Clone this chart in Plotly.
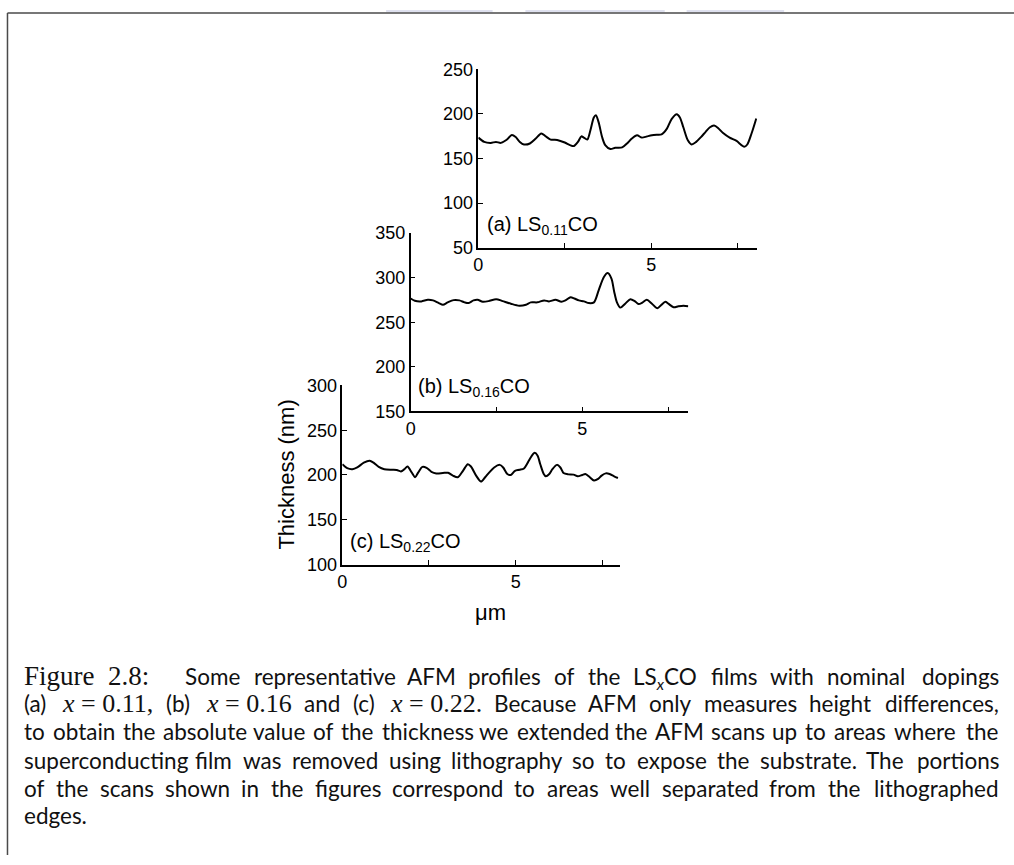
import plotly.graph_objects as go

W, H = 1014, 865

# ---- AFM height profiles (position in um, thickness in nm) ----
x_a = [0, 0.17, 0.36, 0.51, 0.65, 0.82, 0.97, 1.08, 1.2, 1.32, 1.49, 1.66, 1.82, 1.95,
       2.09, 2.28, 2.5, 2.65, 2.76, 2.88, 2.98, 3.05, 3.15, 3.24, 3.34, 3.4, 3.48, 3.58,
       3.67, 3.82, 3.96, 4.16, 4.3, 4.44, 4.59, 4.73, 4.88, 5.02, 5.16, 5.3, 5.45, 5.59,
       5.74, 5.83, 5.93, 6.06, 6.17, 6.3, 6.44, 6.57, 6.7, 6.82, 6.94, 7.08, 7.27, 7.47,
       7.61, 7.69, 7.78, 7.9, 8.04]
y_a = [173.4, 168.6, 167.5, 168.6, 167.5, 171, 176.3, 174, 168.6, 165.7, 166.8, 172.3,
       178.1, 174.8, 171.2, 170.8, 167.9, 165, 163.9, 168.6, 174.8, 173.4, 171.2, 181.4,
       196, 198.5, 190.5, 174, 165, 160.6, 162, 162.4, 166.8, 172.3, 176, 173.4, 174.8,
       176, 176.6, 177, 183.2, 194.2, 199.6, 196, 185, 170.4, 165.7, 168.6, 174, 179.6,
       185, 186.9, 184, 178.5, 173.4, 169.7, 165, 163.1, 165.7, 177.7, 194.9]

x_b = [0, 0.12, 0.31, 0.5, 0.65, 0.82, 0.94, 1.08, 1.25, 1.42, 1.57, 1.69, 1.83, 1.95,
       2.1, 2.27, 2.49, 2.68, 2.92, 3.16, 3.36, 3.5, 3.69, 3.89, 4.03, 4.22, 4.39, 4.51,
       4.66, 4.77, 4.9, 5.05, 5.19, 5.34, 5.48, 5.63, 5.74, 5.85, 5.93, 6.01, 6.11, 6.25,
       6.4, 6.53, 6.64, 6.76, 6.88, 7.03, 7.19, 7.3, 7.42, 7.51, 7.66, 7.8, 7.95, 8.09]
y_b = [276.6, 274.1, 273.4, 275.2, 274.5, 271.5, 269.7, 272.3, 274.8, 274.5, 272.3,
       271.5, 274.5, 275.2, 273, 273.7, 275.9, 273.7, 270.8, 268.6, 269.7, 272.3, 272.3,
       274.5, 273.4, 275.2, 273, 274.5, 278.1, 276.6, 274.5, 273.4, 271.5, 272.3, 286.1,
       300.7, 305.1, 298.9, 284.3, 272.3, 266.4, 270.8, 275.9, 273.7, 270.4, 272.3, 275.2,
       270.8, 265.7, 269.3, 273, 270.8, 266.8, 267.9, 268.6, 267.9]

x_c = [0, 0.14, 0.29, 0.43, 0.62, 0.79, 0.9, 1.05, 1.21, 1.43, 1.57, 1.69, 1.79, 1.88,
       2.0, 2.1, 2.19, 2.31, 2.43, 2.57, 2.71, 2.9, 3.05, 3.19, 3.33, 3.48, 3.62, 3.71,
       3.86, 4.0, 4.12, 4.24, 4.38, 4.54, 4.64, 4.76, 4.86, 4.98, 5.11, 5.24, 5.35, 5.46,
       5.55, 5.63, 5.71, 5.81, 5.87, 5.97, 6.06, 6.19, 6.29, 6.38, 6.52, 6.67, 6.79, 6.92,
       7.01, 7.14, 7.26, 7.38, 7.48, 7.6, 7.71, 7.84, 7.95]
y_c = [212, 207.6, 206.5, 208.4, 213.8, 216, 213.8, 209.1, 206.5, 205.8, 205.5, 204,
       206.5, 209.5, 202.9, 197.5, 202.9, 209.1, 208, 203.6, 201.8, 202.2, 202.5, 199.3,
       197.5, 204.7, 212, 209.5, 199.3, 192.7, 197.5, 202.9, 208.4, 211.3, 208.4, 201.1,
       200, 204.7, 205.8, 207.3, 213.8, 221.1, 224.7, 221.8, 212, 201.1, 198.5, 201.1,
       206.5, 211.3, 208.4, 202.2, 200.7, 200.4, 198.5, 200, 201.1, 197.5, 193.8, 195.6,
       199.3, 201.8, 201.1, 198.5, 196.7]

x_ticks = [0, 2.5, 5, 7.5]
x_ticktext = ["0", "", "5", ""]
y_ticks_a = [50, 100, 150, 200, 250]
y_ticks_b = [150, 200, 250, 300, 350]
y_ticks_c = [100, 150, 200, 250, 300]
labels = ["(a) LS<sub>0.11</sub>CO", "(b) LS<sub>0.16</sub>CO", "(c) LS<sub>0.22</sub>CO"]
x_title = "μm"
y_title = "Thickness (nm)"


def px(x):
    return x / W


def py(y):
    return 1 - y / H


SANS = "Liberation Sans, Arial, sans-serif"

# panel boxes in pixels: left, top, right, bottom
panels = [
    dict(x=x_a, y=y_a, box=(475.7, 60.7, 755.7, 243.3), xr=[0, 8.06], yr=[50, 250],
         yt=y_ticks_a, label=labels[0], lab=(482, 221)),
    dict(x=x_b, y=y_b, box=(407.7, 228.3, 686.7, 411.0), xr=[0, 8.09], yr=[150, 350],
         yt=y_ticks_b, label=labels[1], lab=(413, 386)),
    dict(x=x_c, y=y_c, box=(339.0, 384.3, 617.7, 567.7), xr=[0, 8.0], yr=[100, 300],
         yt=y_ticks_c, label=labels[2], lab=(345, 545)),
]

fig = go.Figure()
layout = {}
annotations = []

for i, p in enumerate(panels, start=1):
    sfx = "" if i == 1 else str(i)
    fig.add_trace(go.Scatter(
        x=p["x"], y=p["y"], mode="lines",
        line=dict(color="black", width=2, shape="spline", smoothing=0.8),
        xaxis="x" + sfx, yaxis="y" + sfx, showlegend=False, hoverinfo="skip",
    ))
    l, t, r, b = p["box"]
    layout["xaxis" + sfx] = dict(
        domain=[px(l), px(r)], range=p["xr"], anchor="y" + sfx,
        showline=True, linecolor="black", linewidth=1.5, showgrid=False, zeroline=False,
        ticks="inside", ticklen=5, tickwidth=1.2, tickcolor="black",
        tickvals=x_ticks, ticktext=x_ticktext,
        tickfont=dict(family=SANS, size=18, color="black"), fixedrange=True,
    )
    layout["yaxis" + sfx] = dict(
        domain=[py(b), py(t)], range=p["yr"], anchor="x" + sfx,
        showline=True, linecolor="black", linewidth=1.5, showgrid=False, zeroline=False,
        ticks="inside", ticklen=5, tickwidth=1.2, tickcolor="black",
        tickvals=p["yt"], tickfont=dict(family=SANS, size=18, color="black"),
        fixedrange=True,
    )
    annotations.append(dict(
        x=px(p["lab"][0]), y=py(p["lab"][1]), xref="paper", yref="paper",
        xanchor="left", yanchor="middle", showarrow=False, text=p["label"],
        font=dict(family=SANS, size=20, color="black"),
    ))

# axis titles shared by the three panels
annotations.append(dict(x=px(283), y=py(476), xref="paper", yref="paper", text=y_title,
                        textangle=-90, showarrow=False, xanchor="center", yanchor="middle",
                        font=dict(family=SANS, size=22, color="black")))
annotations.append(dict(x=px(488), y=py(617), xref="paper", yref="paper", text=x_title,
                        showarrow=False, xanchor="center", yanchor="middle",
                        font=dict(family=SANS, size=22, color="black")))

# ---- caption, fully justified word by word ----
CAP = "Lato, sans-serif"
CAP_SIZE = 22.5
SER_SIZE = 26
TEXT_L, TEXT_R = 22.7, 998     # visible text margins
PAD = 6                        # annotation inner offset

# approximate advance widths (em) used to spread the words over the line
SANS_EM = {
    "a": .49, "b": .55, "c": .45, "d": .55, "e": .51, "f": .31, "g": .50, "h": .55,
    "i": .24, "j": .24, "k": .50, "l": .24, "m": .83, "n": .55, "o": .56, "p": .55,
    "q": .55, "r": .36, "s": .42, "t": .35, "u": .55, "v": .50, "w": .76, "x": .49,
    "y": .50, "z": .45, "A": .68, "B": .63, "C": .67, "F": .54, "L": .49, "M": .90,
    "O": .79, "S": .53, "T": .58, "(": .30, ")": .30, ",": .22, ".": .22, " ": .193,
}
SERIF_EM = {"x": .444, "=": .564, ".": .25, ",": .25, " ": .25, ":": .278}


def sans_w(s):
    return sum(SANS_EM.get(ch, .5) for ch in s) * CAP_SIZE


def serif_w(s):
    return sum(SERIF_EM.get(ch, .5) for ch in s) * SER_SIZE


def serif(s, size=SER_SIZE):
    return f"<span style='font-family:Liberation Serif;font-size:{size}px'>{s}</span>"


def word(s):
    return (s, sans_w(s), 0)


def math(v):
    return (serif(f"<i>x</i> = {v}"), serif_w(f"x = {v}"), 0)


# the subscript enlarges its text box downwards, so the word is nudged to keep its baseline
LSX = ("LS<sub><i>x</i></sub>CO", sans_w("LSCO") + 0.49 * 0.7 * CAP_SIZE, 1.5)


def words(text):
    return [word(w) for w in text.split()]


caption = [
    (682, 185, [*words("Some representative AFM profiles of the"), LSX,
                *words("films with nominal dopings")]),
    (710, TEXT_L, [word("(a)"), math("0.11,"), word("(b)"), math("0.16"), word("and"),
                   word("(c)"), math("0.22."),
                   *words("Because AFM only measures height differences,")]),
    (739, TEXT_L, words("to obtain the absolute value of the thickness we extended "
                        "the AFM scans up to areas where the")),
    (768, TEXT_L, words("superconducting film was removed using lithography so to "
                        "expose the substrate. The portions")),
    (797, TEXT_L, words("of the scans shown in the figures correspond to areas well "
                        "separated from the lithographed")),
]


def cap_note(x, y, text, anchor="left"):
    return dict(x=px(x), y=py(y), xref="paper", yref="paper", xanchor=anchor,
                yanchor="middle", showarrow=False, text=text,
                font=dict(family=CAP, size=CAP_SIZE, color="#111111"))


# figure number in the roman face
annotations.append(cap_note(TEXT_L - PAD, 682, serif("Figure", 27)))
annotations.append(cap_note(108 - PAD, 682, serif("2.8:", 27)))

for yline, start, items in caption:
    total = sum(it[1] for it in items)
    gap = (TEXT_R - start - total) / (len(items) - 1)
    pos = start
    for k, (txt, w, dy) in enumerate(items):
        if k == len(items) - 1:
            annotations.append(cap_note(TEXT_R + 3, yline + dy, txt, "right"))
        else:
            annotations.append(cap_note(pos - PAD, yline + dy, txt))
        pos += w + gap

annotations.append(cap_note(TEXT_L - PAD, 825, "edges."))

# page frame and faint header marks
shapes = [
    dict(type="line", xref="paper", yref="paper", x0=px(2.5), x1=px(W), y0=py(3), y1=py(3),
         line=dict(color="#4a4a4a", width=1.5)),
    dict(type="line", xref="paper", yref="paper", x0=px(2.5), x1=px(2.5), y0=py(3), y1=0,
         line=dict(color="#4a4a4a", width=1.5)),
]
for a, b in [(383, 490), (523, 663), (685, 783)]:
    shapes.append(dict(type="rect", xref="paper", yref="paper", x0=px(a), x1=px(b),
                       y0=py(2.2), y1=1, line=dict(width=0), fillcolor="#dfe1ef",
                       layer="below"))

fig.update_layout(
    width=W, height=H, autosize=False,
    margin=dict(l=0, r=0, t=0, b=0),
    paper_bgcolor="white", plot_bgcolor="rgba(0,0,0,0)",
    annotations=annotations, shapes=shapes, showlegend=False,
    **layout,
)

fig.write_html("out.html", config={"displayModeBar": False})
